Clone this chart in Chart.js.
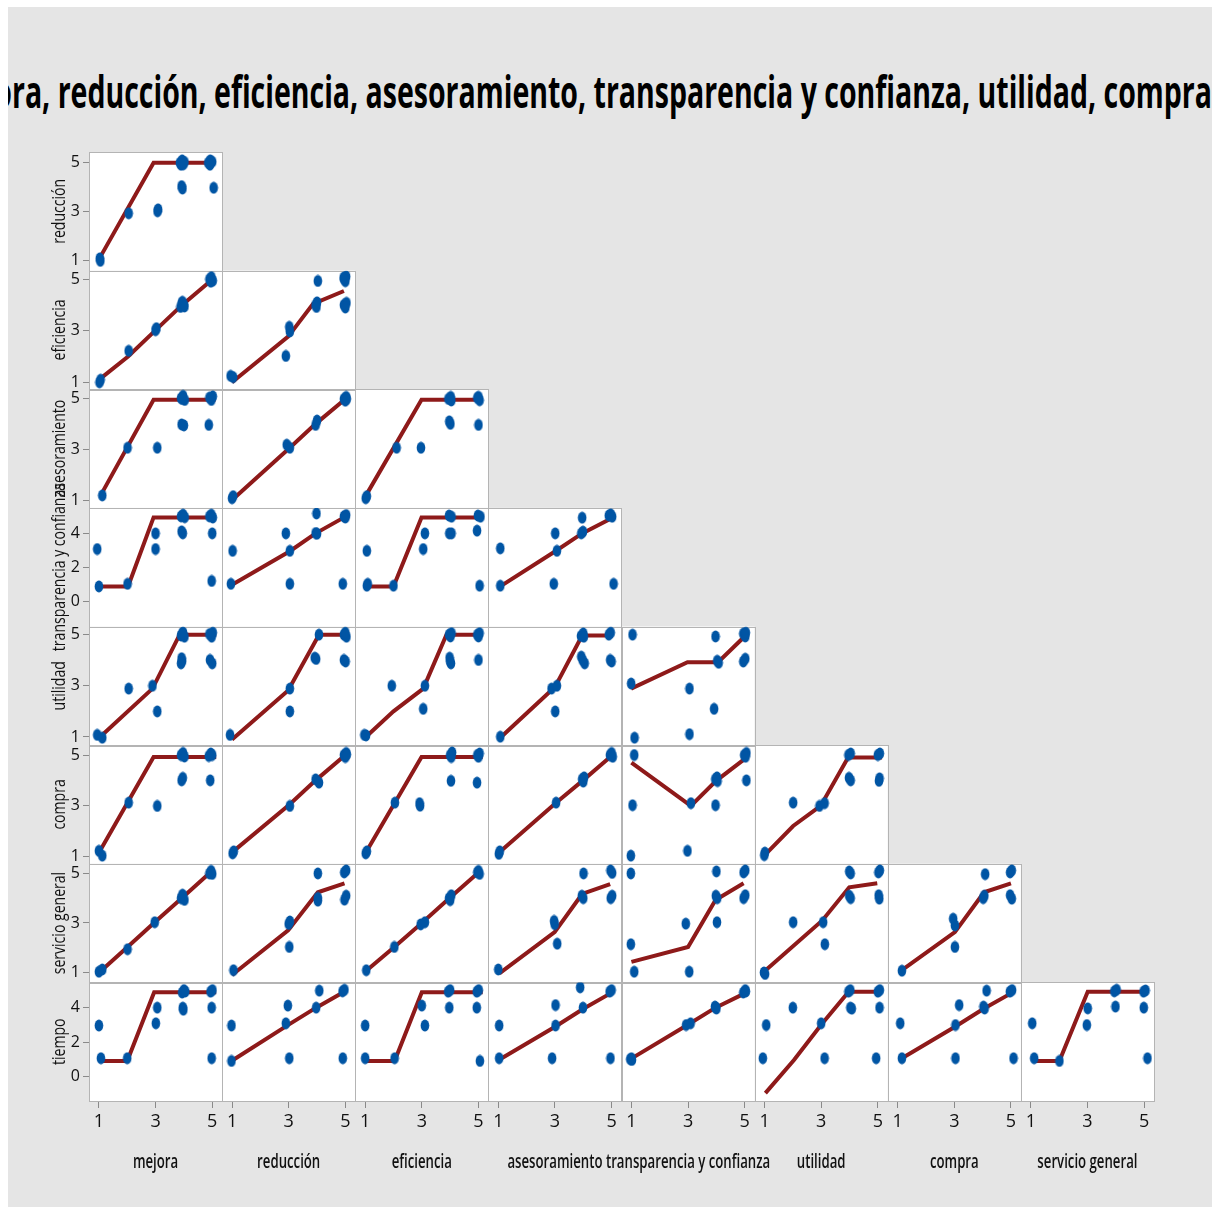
<!DOCTYPE html>
<html>
<head>
<meta charset="utf-8">
<script src="https://cdn.jsdelivr.net/npm/chart.js@4.4.0/dist/chart.umd.min.js"></script>
<style>
  html, body { margin: 0; padding: 0; background: #fff; }
  #panel { position: absolute; left: 8px; top: 7px; width: 1204px; height: 1200px; background: #e5e5e5; }
  #titleBox { position: absolute; left: 8px; top: 60px; width: 1204px; height: 70px; overflow: hidden; }
  #title { position: absolute; right: 0; top: 9px; white-space: nowrap; font: 700 44px 'Open Sans'; line-height: 44px; color: #000; transform-origin: right center; }
  #plot { position: absolute; left: 0; top: 0; }
</style>
</head>
<body>
<div id="panel"></div>
<div id="titleBox"><span id="title"></span></div>
<canvas id="plot" width="1225" height="1215"></canvas>
<script>
const titleText = 'mejora, reducción, eficiencia, asesoramiento, transparencia y confianza, utilidad, compra';
const columnNames = ['mejora', 'reducción', 'eficiencia', 'asesoramiento', 'transparencia y confianza', 'utilidad', 'compra', 'servicio general'];
const rowNames = ['reducción', 'eficiencia', 'asesoramiento', 'transparencia y confianza', 'utilidad', 'compra', 'servicio general', 'tiempo'];

const xTicks = [1, 3, 5];
const xLimits = [0.65, 5.35];
const yTicks = [[1, 3, 5], [1, 3, 5], [1, 3, 5], [0, 2, 4], [1, 3, 5], [1, 3, 5], [1, 3, 5], [0, 2, 4]];
const yLimits = [[0.6, 5.44], [0.73, 5.33], [0.72, 5.38], [-1.48, 5.5], [0.68, 5.32], [0.71, 5.39], [0.6, 5.39], [-1.43, 5.47]];

// one entry per column (mejora, reducción, ...), points as [x, y]
const ptsReduccion = [
  [[1.03,1.1],[1.05,1.0],[2.05,2.94],[3.09,3.1],[3.07,3.02],[3.86,5.0],[3.94,5.1],[4.02,5.03],[3.9,4.92],[3.98,4.94],[3.92,4.05],[3.95,3.95],[4.86,5.0],[4.93,5.1],[5.0,5.04],[4.92,4.92],[5.05,3.98]]
];
const fitReduccion = [
  [[1.04,1.14],[2.93,5.0],[5.1,5.0]]
];

const ptsEficiencia = [
  [[1.02,1.0],[1.06,1.1],[2.05,2.22],[3.03,3.1],[3.0,3.02],[3.88,3.92],[3.93,4.08],[4.0,4.0],[3.95,4.12],[4.02,3.94],[4.9,5.0],[4.97,5.08],[5.02,4.94],[4.95,4.9]],
  [[0.95,1.25],[1.04,1.2],[3.02,3.15],[3.04,2.97],[2.9,2.02],[4.03,4.93],[3.95,4.0],[4.0,4.1],[3.98,3.92],[4.96,5.0],[5.03,5.1],[5.0,4.92],[4.94,5.06],[4.95,4.0],[5.04,4.08],[5.0,3.9]]
];
const fitEficiencia = [
  [[1.04,1.13],[2.03,2.0],[3.03,3.05],[3.94,4.0],[4.96,4.95]],
  [[1.0,1.0],[2.98,2.77],[3.86,4.04],[4.95,4.54]]
];

const ptsAsesoramiento = [
  [[1.12,1.21],[2.01,3.08],[3.06,3.08],[3.9,5.03],[3.97,5.12],[4.03,4.96],[3.95,5.0],[3.92,4.0],[4.0,3.96],[4.9,5.05],[4.97,4.96],[5.02,5.1],[4.88,3.98]],
  [[1.0,1.1],[1.04,1.18],[2.93,3.2],[3.04,3.08],[3.95,3.98],[4.0,4.15],[4.95,5.0],[5.03,5.08],[5.0,4.93],[5.05,5.0]],
  [[1.02,1.1],[1.06,1.18],[2.11,3.08],[2.97,3.08],[3.94,5.0],[4.02,5.08],[4.04,4.94],[3.97,4.12],[4.01,4.02],[4.96,5.04],[5.04,4.95],[5.0,5.08],[5.0,3.98]]
];
const fitAsesoramiento = [
  [[1.09,1.27],[2.93,4.97],[5.12,4.97]],
  [[1.03,1.06],[3.04,3.08],[3.95,4.02],[5.0,5.0]],
  [[1.06,1.27],[2.99,4.97],[5.15,4.97]]
];

const ptsTransparencia = [
  [[0.94,3.08],[1.0,0.88],[2.01,1.03],[3.0,4.0],[3.0,3.08],[3.9,5.0],[3.97,5.1],[4.03,4.95],[3.92,4.12],[3.96,4.0],[4.9,5.0],[4.97,5.1],[5.02,4.93],[5.0,4.0],[4.98,1.2]],
  [[1.02,2.97],[0.96,1.03],[2.9,4.0],[3.04,2.97],[3.04,1.03],[3.98,5.17],[3.95,4.02],[4.0,3.98],[4.95,5.0],[5.03,5.08],[5.0,4.93],[4.91,1.03]],
  [[1.06,2.97],[1.09,1.03],[1.06,0.92],[2.0,0.92],[3.11,4.0],[3.05,3.08],[3.96,5.05],[4.05,4.98],[3.97,4.0],[4.05,4.0],[4.98,5.05],[5.07,4.98],[4.95,4.16],[5.04,0.92]],
  [[1.07,3.12],[1.07,0.92],[3.01,4.0],[3.07,2.97],[2.96,1.03],[3.96,4.92],[3.93,4.0],[3.99,4.1],[4.9,5.05],[4.97,5.12],[5.02,4.98],[5.07,1.03]]
];
const fitTransparencia = [
  [[1.04,0.88],[2.03,0.88],[2.93,4.94],[5.14,4.94]],
  [[1.0,0.98],[3.04,2.95],[3.95,4.0],[5.02,5.0]],
  [[1.06,0.88],[2.0,0.88],[2.99,4.94],[5.15,4.94]],
  [[1.07,0.88],[3.0,2.93],[3.96,4.0],[4.95,4.84]]
];

const ptsUtilidad = [
  [[0.94,1.08],[1.12,0.97],[2.05,2.89],[2.89,3.0],[3.06,2.0],[3.9,4.97],[3.97,5.08],[4.02,4.92],[3.95,5.06],[3.92,4.08],[3.94,3.97],[3.9,3.88],[4.9,5.02],[4.98,4.92],[5.02,5.08],[4.92,4.01],[5.0,3.88]],
  [[0.93,1.08],[3.04,2.89],[3.04,2.0],[4.07,5.0],[3.92,4.1],[3.97,4.05],[4.95,5.0],[5.04,4.92],[5.0,5.08],[4.95,4.01],[5.01,3.95]],
  [[0.97,1.08],[1.03,1.06],[1.94,3.0],[3.11,3.0],[3.05,2.1],[3.96,5.0],[4.05,5.06],[4.01,4.93],[3.98,4.1],[4.0,3.95],[4.03,3.88],[4.96,5.0],[5.04,5.06],[5.0,4.93],[5.0,4.01]],
  [[1.07,1.01],[2.88,2.89],[3.07,3.0],[3.01,2.0],[3.92,4.95],[4.0,5.05],[4.02,4.92],[3.93,4.14],[4.05,3.88],[3.98,4.0],[4.9,5.0],[4.97,5.08],[4.95,4.01],[5.0,3.95]],
  [[1.04,5.0],[0.99,3.09],[1.11,0.97],[3.05,2.89],[3.05,1.11],[3.92,2.1],[3.97,4.93],[4.03,3.98],[4.08,3.9],[4.95,5.04],[5.02,4.93],[5.04,5.08],[4.95,3.95],[5.02,4.06]]
];
const fitUtilidad = [
  [[1.04,1.0],[2.89,2.89],[3.85,5.0],[5.14,5.0]],
  [[1.0,0.9],[2.98,2.82],[4.07,5.0],[5.04,5.0]],
  [[1.06,1.04],[2.0,2.0],[3.05,2.89],[3.87,5.0],[5.15,5.0]],
  [[1.07,0.97],[3.0,2.95],[3.96,4.97],[5.05,4.97]],
  [[0.99,2.89],[2.98,3.92],[4.06,3.92],[4.94,4.87]]
];

const ptsCompra = [
  [[1.0,1.22],[1.12,1.03],[2.05,3.12],[3.06,2.99],[3.9,5.0],[3.97,5.08],[4.02,4.94],[3.92,4.0],[3.96,4.1],[4.88,4.96],[4.95,5.06],[5.0,5.0],[4.93,4.0]],
  [[1.02,1.12],[1.06,1.2],[3.04,2.99],[3.95,4.04],[4.07,3.91],[4.95,5.0],[5.03,5.08],[5.0,4.92],[5.05,5.02]],
  [[1.02,1.12],[1.06,1.2],[2.05,3.12],[2.92,3.1],[2.94,3.0],[4.0,5.0],[4.07,5.1],[4.04,4.92],[4.03,3.98],[4.96,5.0],[5.04,5.06],[5.0,4.93],[4.95,3.91]],
  [[1.02,1.1],[1.05,1.2],[3.04,3.12],[3.96,4.05],[4.0,3.95],[4.03,4.12],[4.94,5.0],[5.0,5.08],[5.04,4.93]],
  [[1.1,5.0],[1.04,3.02],[0.98,1.03],[3.1,3.1],[2.98,1.22],[3.96,4.05],[4.02,4.12],[4.04,3.97],[3.97,3.02],[4.98,5.0],[5.06,5.08],[5.03,4.93],[5.06,4.0]],
  [[0.99,1.05],[1.01,1.15],[2.01,3.12],[2.94,2.99],[3.12,3.1],[3.96,5.0],[4.04,5.06],[3.98,4.1],[4.04,4.0],[5.0,5.0],[5.07,5.06],[5.06,4.08],[5.04,3.98]]
];
const fitCompra = [
  [[1.04,1.22],[2.93,4.92],[5.14,4.92]],
  [[1.0,1.16],[3.04,3.06],[3.95,4.0],[5.0,5.0]],
  [[1.06,1.22],[2.99,4.92],[5.15,4.92]],
  [[1.04,1.16],[3.04,3.12],[3.99,4.0],[4.95,4.92]],
  [[1.0,4.7],[3.1,2.99],[3.99,3.98],[5.06,4.9]],
  [[1.04,1.09],[2.01,2.2],[2.98,2.99],[3.95,4.9],[5.15,4.9]]
];

const ptsServicio = [
  [[1.0,1.03],[1.12,1.12],[2.01,1.94],[2.97,3.03],[3.9,4.0],[3.96,4.1],[4.02,3.93],[3.95,4.14],[4.9,5.0],[4.96,5.1],[5.0,4.98]],
  [[1.05,1.09],[3.0,2.96],[3.04,3.06],[3.02,2.03],[4.03,5.0],[4.03,4.01],[4.03,3.9],[4.96,5.04],[5.03,5.12],[4.97,3.94],[5.03,4.1]],
  [[1.04,1.09],[2.03,2.03],[2.96,2.94],[3.11,3.03],[3.96,4.0],[4.04,4.12],[4.0,3.92],[4.96,5.04],[5.04,4.98],[5.0,5.1]],
  [[1.0,1.12],[2.97,3.08],[2.99,2.95],[3.08,2.16],[4.01,5.0],[3.95,4.1],[4.0,4.0],[4.96,5.12],[5.02,5.02],[4.97,4.0],[5.02,4.1]],
  [[0.98,5.0],[0.98,2.14],[1.1,1.03],[2.92,2.97],[3.04,1.03],[4.0,5.08],[3.98,4.1],[4.03,4.0],[4.02,3.03],[4.96,5.04],[5.02,5.12],[4.96,4.0],[5.02,4.12]],
  [[0.98,1.0],[1.02,0.94],[2.01,3.03],[3.07,3.03],[3.13,2.14],[3.99,5.08],[4.04,5.0],[3.99,4.1],[4.04,4.0],[5.02,5.04],[5.07,5.12],[5.03,4.12],[5.05,3.98]],
  [[1.15,1.07],[2.96,3.17],[3.02,2.9],[3.02,2.03],[4.09,4.97],[4.02,4.0],[4.06,4.1],[4.97,5.04],[5.03,5.12],[4.97,4.12],[5.03,3.98]]
];
const fitServicio = [
  [[1.04,1.03],[2.01,2.03],[2.97,3.03],[3.96,4.04],[4.93,5.04]],
  [[1.0,0.9],[2.98,2.7],[4.03,4.24],[4.97,4.6]],
  [[1.06,1.09],[2.03,2.03],[3.0,3.0],[4.01,4.04],[5.0,5.04]],
  [[1.04,0.96],[2.99,2.63],[3.96,4.17],[4.95,4.57]],
  [[1.0,1.43],[3.0,2.03],[3.97,3.93],[4.96,4.6]],
  [[1.04,1.09],[3.04,3.1],[3.99,4.44],[4.98,4.6]],
  [[1.15,1.09],[3.02,2.63],[4.05,4.24],[5.0,4.6]]
];

const ptsTiempo = [
  [[1.0,2.96],[1.07,1.06],[2.0,1.06],[3.01,3.09],[3.06,4.0],[3.94,4.88],[4.0,5.02],[4.05,4.94],[3.96,4.0],[3.98,3.88],[4.94,4.93],[5.01,5.02],[4.98,4.0],[4.98,1.06]],
  [[0.98,2.96],[0.98,0.9],[2.97,4.12],[2.9,3.09],[3.02,1.06],[4.08,4.99],[3.97,4.0],[4.9,4.95],[4.97,5.04],[4.91,1.06]],
  [[1.0,2.96],[1.0,1.06],[2.04,1.06],[3.0,4.12],[3.11,2.96],[3.97,4.0],[3.93,4.93],[4.0,5.02],[4.94,4.0],[4.94,4.93],[5.01,5.02],[5.05,0.9]],
  [[1.03,2.96],[1.03,1.06],[2.9,1.06],[3.02,4.15],[3.02,2.96],[3.89,5.18],[3.99,4.0],[4.93,4.93],[5.0,5.02],[4.96,1.06]],
  [[0.96,1.0],[1.0,1.06],[1.02,0.96],[2.93,2.99],[3.09,3.09],[3.95,4.06],[4.0,3.95],[3.98,4.0],[4.95,4.88],[5.02,5.02],[5.04,4.94]],
  [[1.06,2.99],[0.94,1.06],[2.0,4.0],[3.0,3.09],[3.12,1.06],[3.96,4.93],[4.03,5.02],[4.03,4.0],[4.08,3.94],[5.0,4.93],[5.07,5.02],[5.06,4.0],[4.94,1.06]],
  [[1.09,3.09],[1.15,1.06],[3.17,4.15],[3.04,2.99],[3.04,1.06],[4.14,4.99],[4.03,4.06],[4.07,3.95],[4.96,4.93],[5.04,5.02],[5.09,1.06]],
  [[1.05,3.09],[1.12,1.06],[2.01,0.9],[3.01,3.96],[2.98,2.99],[3.95,4.95],[4.03,5.04],[3.99,4.06],[4.98,4.93],[5.05,5.0],[4.99,4.0],[5.12,1.06]]
];
const fitTiempo = [
  [[1.07,0.9],[2.0,0.9],[2.95,4.89],[5.14,4.89]],
  [[0.98,0.9],[2.97,2.98],[3.97,4.0],[4.96,4.93]],
  [[1.0,0.9],[2.04,0.9],[3.0,4.89],[5.15,4.89]],
  [[1.03,0.97],[3.02,2.9],[3.99,3.92],[4.96,4.83]],
  [[0.98,1.02],[2.99,3.0],[3.97,4.0],[5.0,4.83]],
  [[1.03,-0.97],[2.04,0.95],[3.0,3.0],[3.97,4.93],[5.06,4.93]],
  [[1.15,1.06],[3.04,2.9],[4.02,3.92],[5.0,4.83]],
  [[1.17,0.9],[2.01,0.9],[3.01,4.93],[5.09,4.93]]
];

const rowPoints = [ptsReduccion, ptsEficiencia, ptsAsesoramiento, ptsTransparencia, ptsUtilidad, ptsCompra, ptsServicio, ptsTiempo];
const rowFits = [fitReduccion, fitEficiencia, fitAsesoramiento, fitTransparencia, fitUtilidad, fitCompra, fitServicio, fitTiempo];

const textColor = '#111';

// title is wider than the frame: right-align it and squeeze it horizontally
(function () {
  const el = document.getElementById('title');
  el.textContent = titleText;
  const m = document.createElement('canvas').getContext('2d');
  m.font = "700 44px 'Open Sans'";
  const full = m.measureText(titleText).width;
  const lead = m.measureText('mejo').width;
  el.style.transform = 'scaleX(' + (1200 / (full - lead)) + ')';
})();

// markers are slightly taller than wide
const dot = document.createElement('canvas');
dot.width = 10;
dot.height = 13;
const dctx = dot.getContext('2d');
dctx.fillStyle = '#0055a4';
dctx.beginPath();
dctx.ellipse(5, 6.5, 4.3, 6, 0, 0, Math.PI * 2);
dctx.fill();

const scales = {};
columnNames.forEach((name, c) => {
  scales['x' + c] = {
    type: 'linear', axis: 'x', position: 'bottom',
    stack: 'cols', stackWeight: 1, weight: c,
    min: xLimits[0], max: xLimits[1],
    afterBuildTicks: s => { s.ticks = xTicks.map(v => ({ value: v })); },
    afterFit: s => { s.height = 75; },
    grid: { drawOnChartArea: false, tickLength: 7, color: '#8a8a8a' },
    border: { display: false },
    ticks: { font: { family: "'Open Sans'", size: 18 }, color: textColor, padding: 3, maxRotation: 0, autoSkip: false }
  };
});
rowNames.forEach((name, r) => {
  scales['y' + r] = {
    type: 'linear', axis: 'y', position: 'left',
    stack: 'rows', stackWeight: 1, weight: 8 - r,
    min: yLimits[r][0], max: yLimits[r][1],
    afterBuildTicks: s => { s.ticks = yTicks[r].map(v => ({ value: v })); },
    afterFit: s => { s.width = 60; },
    grid: { drawOnChartArea: false, tickLength: 6, color: '#8a8a8a' },
    border: { display: false },
    ticks: { font: { family: "'Open Sans'", size: 16 }, color: textColor, padding: 3, autoSkip: false }
  };
});

const datasets = [];
rowPoints.forEach((cells, r) => {
  cells.forEach((pts, c) => {
    datasets.push({
      data: pts.map(([x, y]) => ({ x, y })),
      xAxisID: 'x' + c, yAxisID: 'y' + r,
      pointStyle: dot, pointRadius: 5, order: 0
    });
    datasets.push({
      data: rowFits[r][c].map(([x, y]) => ({ x, y })),
      xAxisID: 'x' + c, yAxisID: 'y' + r,
      showLine: true, borderColor: '#8e1a1a', borderWidth: 4,
      pointRadius: 0, order: 1
    });
  });
});

// white panels with a grey frame for the lower-triangle cells
const cellFrames = {
  id: 'cellFrames',
  beforeDatasetsDraw(chart) {
    const ctx = chart.ctx;
    ctx.save();
    ctx.fillStyle = '#fff';
    ctx.strokeStyle = '#b4b4b4';
    ctx.lineWidth = 1;
    rowNames.forEach((_, r) => {
      const ys = chart.scales['y' + r];
      for (let c = 0; c <= r; c++) {
        const xs = chart.scales['x' + c];
        ctx.fillRect(xs.left, ys.top, xs.right - xs.left, ys.bottom - ys.top);
      }
    });
    rowNames.forEach((_, r) => {
      const ys = chart.scales['y' + r];
      for (let c = 0; c <= r; c++) {
        const xs = chart.scales['x' + c];
        ctx.strokeRect(Math.round(xs.left) + 0.5, Math.round(ys.top) + 0.5,
          Math.round(xs.right - xs.left), Math.round(ys.bottom - ys.top));
      }
    });
    ctx.restore();
  }
};

// variable names under each column and beside each row, in a narrow face
const axisNames = {
  id: 'axisNames',
  afterDraw(chart) {
    const ctx = chart.ctx;
    ctx.save();
    ctx.fillStyle = textColor;
    ctx.textAlign = 'center';
    ctx.textBaseline = 'middle';
    ctx.font = "600 20px 'Open Sans'";
    columnNames.forEach((name, c) => {
      const xs = chart.scales['x' + c];
      ctx.save();
      ctx.translate((xs.left + xs.right) / 2, xs.bottom - 14);
      ctx.scale(0.66, 1);
      ctx.fillText(name, 0, 0);
      ctx.restore();
    });
    ctx.font = "19px 'Open Sans'";
    rowNames.forEach((name, r) => {
      const ys = chart.scales['y' + r];
      ctx.save();
      ctx.translate(ys.left + 31, (ys.top + ys.bottom) / 2);
      ctx.rotate(-Math.PI / 2);
      ctx.scale(0.74, 1);
      ctx.fillText(name, 0, 0);
      ctx.restore();
    });
    ctx.restore();
  }
};

new Chart(document.getElementById('plot'), {
  type: 'scatter',
  data: { datasets },
  options: {
    responsive: false,
    animation: false,
    devicePixelRatio: 1,
    layout: { padding: { left: 29, right: 71, top: 152, bottom: 39 } },
    plugins: { legend: { display: false }, tooltip: { enabled: false } },
    scales
  },
  plugins: [cellFrames, axisNames]
});
</script>
</body>
</html>
